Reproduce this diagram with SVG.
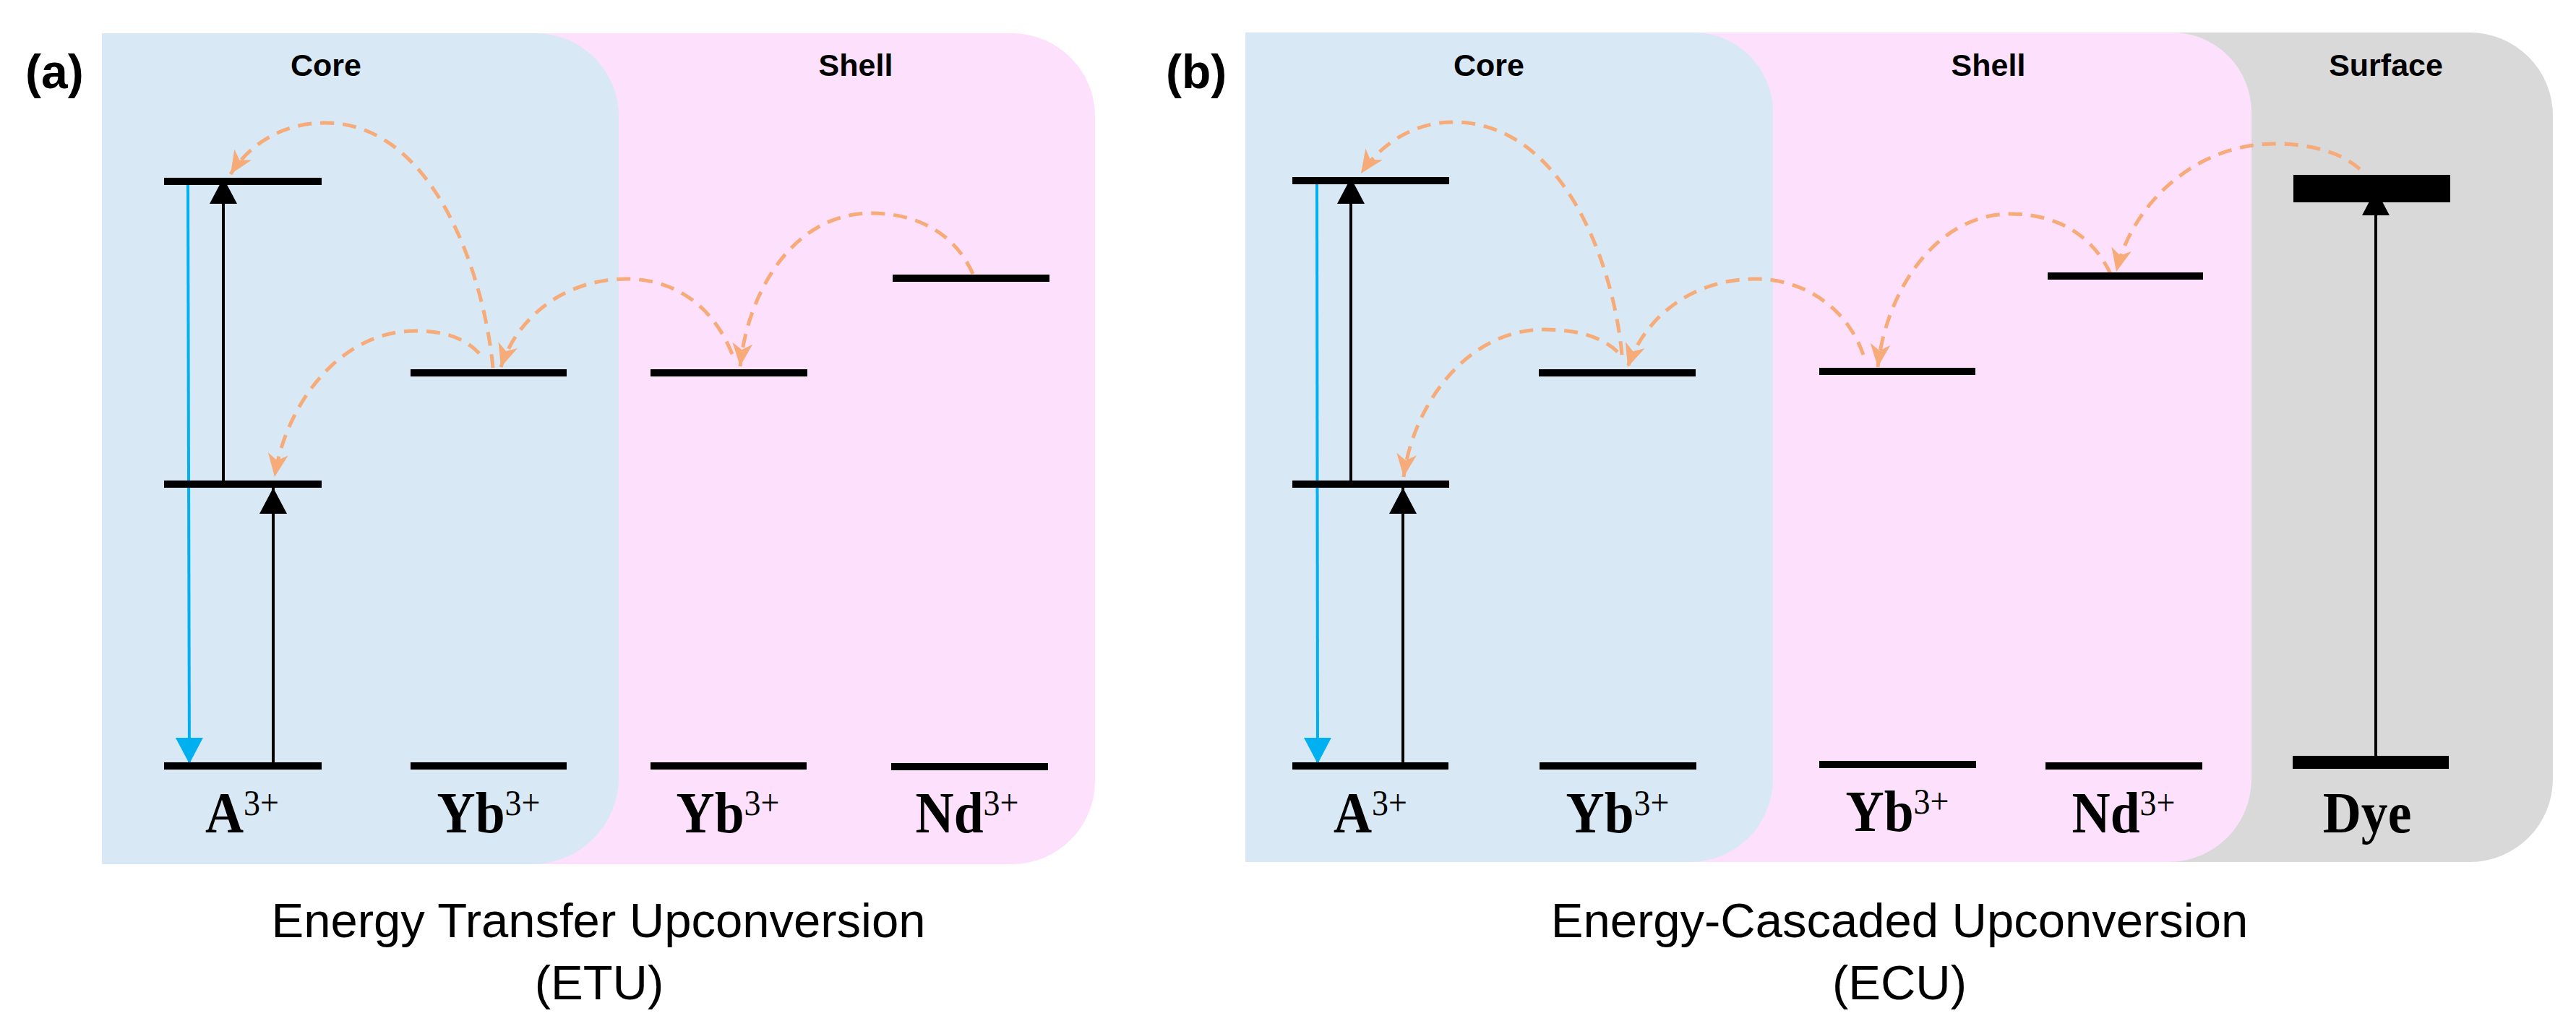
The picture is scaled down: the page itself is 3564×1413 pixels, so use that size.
<svg xmlns="http://www.w3.org/2000/svg" width="3564" height="1413" viewBox="0 0 3564 1413">
<defs>
<style>
.bg{fill:#ffffff}
.core{fill:#D8E8F5}
.shell{fill:#FDE1FC}
.surf{fill:#D9D9D9}
.lvl{stroke:#000;stroke-width:10;fill:none}
.up{stroke:#000;stroke-width:4;fill:none;marker-end:url(#ab)}
.em{stroke:#00B0F0;stroke-width:4;fill:none;marker-end:url(#ac)}
.et{stroke:#F6AB78;stroke-width:5;fill:none;stroke-dasharray:19 12;marker-end:url(#ao)}
.reg{font-family:"Liberation Sans",Arial,sans-serif;font-weight:bold;font-size:43px;text-anchor:middle;fill:#000}
.pan{font-family:"Liberation Sans",Arial,sans-serif;font-weight:bold;font-size:66px;fill:#000}
.ion{font-family:"Liberation Serif","Times New Roman",serif;font-weight:bold;font-size:80px;text-anchor:middle;fill:#000}
.sup{font-size:50px;font-weight:normal}
.cap{font-family:"Liberation Sans",Arial,sans-serif;font-size:67px;text-anchor:middle;fill:#000}
</style>
<marker id="ab" markerUnits="userSpaceOnUse" markerWidth="36" markerHeight="38" refX="36" refY="19" orient="auto" viewBox="0 0 36 38"><path d="M0,0 L36,19 L0,38 Z" fill="#000"/></marker>
<marker id="ac" markerUnits="userSpaceOnUse" markerWidth="36" markerHeight="38" refX="36" refY="19" orient="auto" viewBox="0 0 36 38"><path d="M0,0 L36,19 L0,38 Z" fill="#00B0F0"/></marker>
<marker id="ao" markerUnits="userSpaceOnUse" markerWidth="32" markerHeight="28" refX="32" refY="14" orient="auto" viewBox="0 0 32 28"><path d="M0,0 L32,14 L0,28 L9,14 Z" fill="#F6AB78"/></marker>
</defs>
<rect class="bg" x="0" y="0" width="3564" height="1413"/>

<!-- Panel (a) regions -->
<g id="a-shell"><path class="shell" d="M560,46 H1400 A115,115 0 0 1 1515,161 V1081 A115,115 0 0 1 1400,1196 H560 Z"/><text class="reg" x="1184" y="105">Shell</text></g>
<g id="a-core"><path class="core" d="M141,46 H741 A115,115 0 0 1 856,161 V1076 A120,120 0 0 1 736,1196 H141 Z"/><text class="reg" x="451" y="105">Core</text></g>
<text class="pan" x="35" y="122">(a)</text>

<!-- Panel (b) regions -->
<g id="b-surface"><path class="surf" d="M2900,45 H3417 A115,115 0 0 1 3532,160 V1078 A115,115 0 0 1 3417,1193 H2900 Z"/><text class="reg" x="3301" y="105">Surface</text></g>
<g id="b-shell"><path class="shell" d="M2300,45 H3005 A110,110 0 0 1 3115,155 V1078 A115,115 0 0 1 3000,1193 H2300 Z"/><text class="reg" x="2751" y="105">Shell</text></g>
<g id="b-core"><path class="core" d="M1723,45 H2343 A110,110 0 0 1 2453,155 V1078 A115,115 0 0 1 2338,1193 H1723 Z"/><text class="reg" x="2060" y="105">Core</text></g>
<text class="pan" x="1613" y="122">(b)</text>

<!-- Connectors -->
<g id="connectors">
<path class="up" d="M309,670 V246"/>
<path class="up" d="M378,1060 V675"/>
<path class="em" d="M260,251 L262,1057"/>
<path class="et" d="M682,509 C670,380 600,170 450,170 C390,170 345,200 319,241"/>
<path class="et" d="M663,489 C640,465 610,458 574,458 C470,458 395,560 380,660"/>
<path class="et" d="M1013,490 C985,420 930,386 867,386 C780,386 715,440 693,508"/>
<path class="et" d="M1346,379 C1320,320 1265,295 1205,295 C1100,295 1035,400 1024,507"/>

<path class="up" d="M1869,670 V246"/>
<path class="up" d="M1941,1060 V675"/>
<path class="em" d="M1822,251 L1823,1057"/>
<path class="up" d="M3287,1060 V262"/>
<path class="et" d="M2244,491 C2232,360 2160,169 2011,169 C1955,169 1910,200 1883,240"/>
<path class="et" d="M2238,487 C2215,465 2180,456 2136,456 C2030,456 1955,560 1942,660"/>
<path class="et" d="M2578,491 C2555,425 2495,386 2429,386 C2340,386 2275,440 2252,508"/>
<path class="et" d="M2920,379 C2895,325 2845,296 2782,296 C2680,296 2610,400 2598,508"/>
<path class="et" d="M3265,234 C3240,212 3200,199 3146,199 C3040,199 2950,280 2928,376"/>
</g>

<!-- Panel (a) nodes -->
<g id="a-A">
<path class="lvl" d="M227,251 H445 M227,670 H445 M227,1060 H445"/>
<g transform="translate(335,1152) scale(0.92,1)"><text class="ion" x="0" y="0">A<tspan class="sup" dy="-24">3+</tspan></text></g>
</g>
<g id="a-Yb-core">
<path class="lvl" d="M568,516 H784 M568,1060 H784"/>
<g transform="translate(676,1152) scale(0.92,1)"><text class="ion" x="0" y="0">Yb<tspan class="sup" dy="-24">3+</tspan></text></g>
</g>
<g id="a-Yb-shell">
<path class="lvl" d="M900,516 H1117 M900,1060 H1116"/>
<g transform="translate(1007,1152) scale(0.92,1)"><text class="ion" x="0" y="0">Yb<tspan class="sup" dy="-24">3+</tspan></text></g>
</g>
<g id="a-Nd">
<path class="lvl" d="M1235,385 H1452 M1233,1061 H1450"/>
<g transform="translate(1338,1152) scale(0.92,1)"><text class="ion" x="0" y="0">Nd<tspan class="sup" dy="-24">3+</tspan></text></g>
</g>

<!-- Panel (b) nodes -->
<g id="b-A">
<path class="lvl" d="M1788,250 H2005 M1788,670 H2005 M1788,1060 H2004"/>
<g transform="translate(1896,1152) scale(0.92,1)"><text class="ion" x="0" y="0">A<tspan class="sup" dy="-24">3+</tspan></text></g>
</g>
<g id="b-Yb-core">
<path class="lvl" d="M2129,516 H2346 M2130,1060 H2347"/>
<g transform="translate(2238,1152) scale(0.92,1)"><text class="ion" x="0" y="0">Yb<tspan class="sup" dy="-24">3+</tspan></text></g>
</g>
<g id="b-Yb-shell">
<path class="lvl" d="M2517,514 H2733 M2517,1058 H2734"/>
<g transform="translate(2625,1150) scale(0.92,1)"><text class="ion" x="0" y="0">Yb<tspan class="sup" dy="-24">3+</tspan></text></g>
</g>
<g id="b-Nd">
<path class="lvl" d="M2833,382 H3048 M2830,1060 H3047"/>
<g transform="translate(2938,1152) scale(0.92,1)"><text class="ion" x="0" y="0">Nd<tspan class="sup" dy="-24">3+</tspan></text></g>
</g>
<g id="b-Dye">
<rect x="3173" y="242" width="217" height="38" fill="#000"/>
<rect x="3172" y="1046" width="216" height="18" fill="#000"/>
<g transform="translate(3275,1152) scale(0.92,1)"><text class="ion" x="0" y="0">Dye</text></g>
</g>

<!-- Captions -->
<text class="cap" x="828" y="1297">Energy Transfer Upconversion</text>
<text class="cap" x="829" y="1383">(ETU)</text>
<text class="cap" x="2628" y="1297">Energy-Cascaded Upconversion</text>
<text class="cap" x="2628" y="1383">(ECU)</text>
</svg>
